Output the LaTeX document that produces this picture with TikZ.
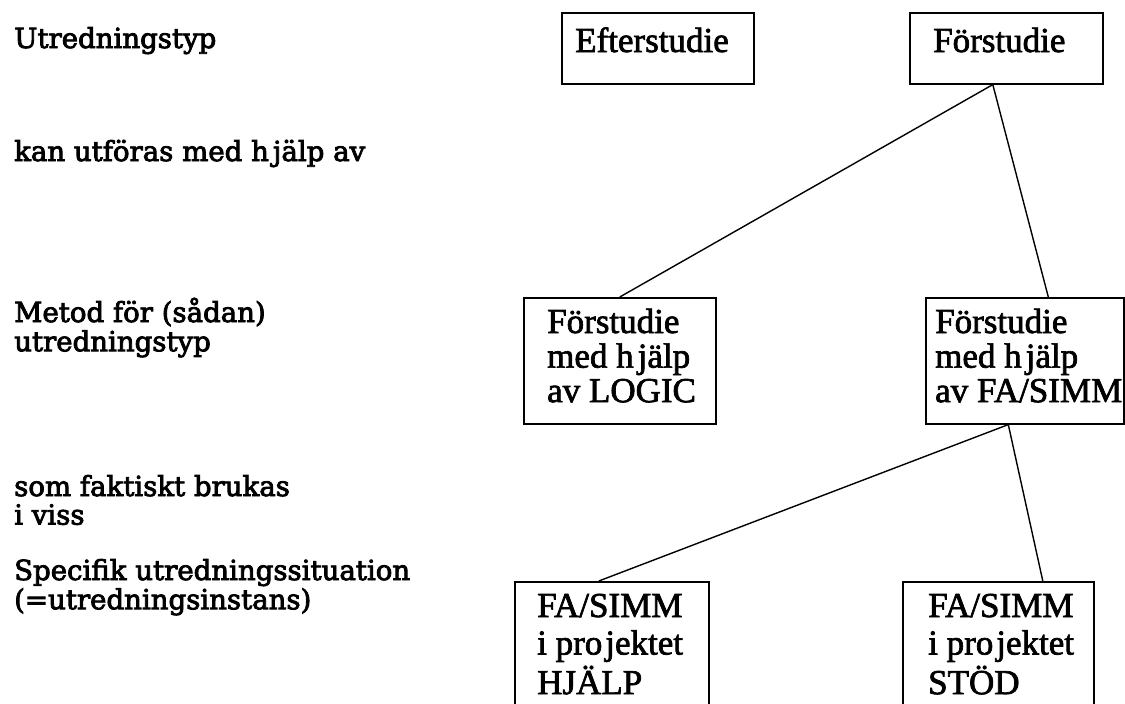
\documentclass[tikz,border=0pt]{standalone}
\usepackage{fontspec}
\setmainfont[RawFeature={embolden=2}]{Liberation Serif}
\newfontfamily\rowfont[RawFeature={embolden=3}]{DejaVu Serif}
% stacked lines whose first baseline is the node's baseline
\newcommand{\stackedlines}[1]{\begin{tabular}[t]{@{}l@{}}#1\end{tabular}}
\newcommand{\hj}{h\kern4pt jälp}
\begin{document}
\begin{tikzpicture}[x=1pt,y=-1pt,
  box/.style={draw,line width=1.6pt,inner sep=0pt,anchor=north west},
  boxtext/.style={anchor=base west,inner sep=0pt,
    font=\fontsize{35}{34.5}\selectfont},
  lowtext/.style={anchor=base west,inner sep=0pt,
    font=\fontsize{35}{37.5}\selectfont},
  rowlabel/.style={anchor=base west,inner sep=0pt,
    font=\rowfont\fontsize{27.6}{27.5}\selectfont},
  link/.style={line width=1.4pt}]
\useasboundingbox (0,0) rectangle (1125,704);
\clip (0,0) rectangle (1125,704);

% row captions on the left
\node[rowlabel] (r1) at (14,48) {Utredningstyp};
\node[rowlabel] (r2) at (14,161) {kan utföras med \hj{} av};
\node[rowlabel] (r3) at (14,322) {\stackedlines{Metod för (sådan)\\utredningstyp}};
\node[rowlabel] (r4) at (14,496) {\stackedlines{som faktiskt brukas\\i viss}};
\node[rowlabel] (r5) at (14,580) {\stackedlines{Specifik utredningssituation\\(=utredningsinstans)}};

% level 1: kinds of study
\node[box,minimum width=192,minimum height=71] (eft) at (561,12) {};
\node[boxtext] (eftt) at (575,52) {Efterstudie};
\node[box,minimum width=193,minimum height=71] (fs) at (909,12) {};
\node[boxtext] (fst) at (933,52) {Förstudie};

% level 2: methods
\node[box,minimum width=192,minimum height=126] (lg) at (523,297) {};
\node[boxtext] (lgt) at (547,333) {\stackedlines{Förstudie\\med \hj\\av LOGIC}};
\node[box,minimum width=198,minimum height=126] (fa) at (925,297) {};
\node[boxtext] (fat) at (935,333) {\stackedlines{Förstudie\\med \hj\\av FA/SIMM}};

% level 3: instances (boxes run past the lower edge)
\node[box,minimum width=194,minimum height=200] (hj) at (514,581) {};
\node[lowtext] (hjt) at (537,617) {\stackedlines{FA/SIMM\\i pro\kern3pt jektet\\HJÄLP}};
\node[box,minimum width=191,minimum height=200] (st) at (902,581) {};
\node[lowtext] (stt) at (928,617) {\stackedlines{FA/SIMM\\i pro\kern3pt jektet\\STÖD}};

% connectors
\coordinate (fsj) at ([xshift=-13.5]fs.south);
\coordinate (fatop) at ([xshift=23.5]fa.north);
\coordinate (faj) at ([xshift=-16.5]fa.south);
\coordinate (hjtop) at ([xshift=-13]hj.north);
\coordinate (sttop) at ([xshift=44.5]st.north);
\draw[link] (fsj) -- (lg.north);
\draw[link] (fsj) -- (fatop);
\draw[link] (faj) -- (hjtop);
\draw[link] (faj) -- (sttop);
\end{tikzpicture}
\end{document}
